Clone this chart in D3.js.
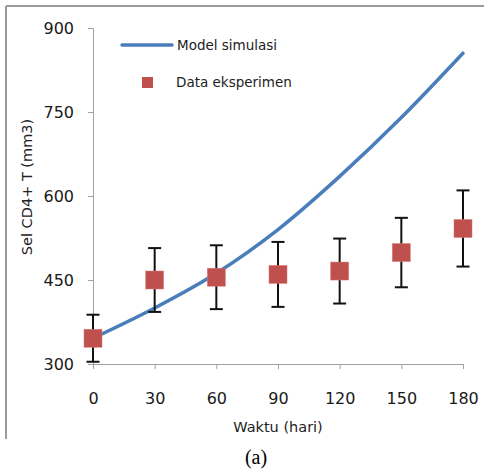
<!DOCTYPE html>
<html><head><meta charset="utf-8">
<script src="https://cdn.jsdelivr.net/npm/d3@7"></script>
<style>body{margin:0;background:#fff}svg{display:block}</style>
</head><body>
<script>
const days = [0, 30, 60, 90, 120, 150, 180];
const modelValues = [346, 400, 462, 540, 635, 740, 855];
const dataValues = [346, 450, 455, 460, 466, 499, 542];
const dataErrors = [42, 57, 57, 58, 58, 62, 68];
const yTicks = [300, 450, 600, 750, 900];
const xTicks = [0, 30, 60, 90, 120, 150, 180];

const W = 487, H = 469;
const svg = d3.select("body").append("svg").attr("width", W).attr("height", H);
const font = "DejaVu Sans, sans-serif";

// frame
svg.append("line").attr("x1", 6).attr("x2", 6).attr("y1", 6).attr("y2", 439).attr("stroke", "#9a9a9a").attr("stroke-width", 2);
svg.append("line").attr("x1", 6).attr("x2", 484).attr("y1", 6).attr("y2", 6).attr("stroke", "#9a9a9a").attr("stroke-width", 2);

const x = d3.scaleLinear().domain([0, 180]).range([93, 463]);
const y = d3.scaleLinear().domain([300, 900]).range([364, 28]);

const yAxis = svg.append("g").attr("transform", `translate(${x(0)},0)`)
  .call(d3.axisLeft(y).tickValues(yTicks).tickSize(5).tickPadding(14));
const xAxis = svg.append("g").attr("transform", `translate(0,${y(300)})`)
  .call(d3.axisBottom(x).tickValues(xTicks).tickSize(5).tickPadding(24));
[yAxis, xAxis].forEach(g => {
  g.select(".domain").attr("stroke", "#a0a0a0");
  g.selectAll(".tick line").attr("stroke", "#a0a0a0");
  g.selectAll("text").attr("font-family", font).attr("font-size", 16).attr("fill", "#1a1a1a");
});

// model line
svg.append("path").datum(days.map((d, i) => [d, modelValues[i]]))
  .attr("d", d3.line().x(d => x(d[0])).y(d => y(d[1])).curve(d3.curveMonotoneX))
  .attr("fill", "none").attr("stroke", "#4A7EBB").attr("stroke-width", 3.5).attr("stroke-linecap", "round");

// error bars
const eb = svg.append("g").attr("stroke", "#111").attr("stroke-width", 2);
days.forEach((d, i) => {
  const cx = x(d), top = y(dataValues[i] + dataErrors[i]), bot = y(dataValues[i] - dataErrors[i]);
  eb.append("line").attr("x1", cx).attr("x2", cx).attr("y1", top).attr("y2", bot);
  eb.append("line").attr("x1", cx - 6.5).attr("x2", cx + 6.5).attr("y1", top).attr("y2", top);
  eb.append("line").attr("x1", cx - 6.5).attr("x2", cx + 6.5).attr("y1", bot).attr("y2", bot);
});

// markers
svg.append("g").selectAll("rect").data(days).join("rect")
  .attr("x", d => x(d) - 9).attr("y", (d, i) => y(dataValues[i]) - 9)
  .attr("width", 18).attr("height", 18).attr("fill", "#C0504D").attr("stroke", "#d87a78").attr("stroke-width", 0.5);

// legend
svg.append("line").attr("x1", 122).attr("x2", 172).attr("y1", 45).attr("y2", 45)
  .attr("stroke", "#4A7EBB").attr("stroke-width", 3.5).attr("stroke-linecap", "round");
svg.append("text").attr("x", 177).attr("y", 45).attr("dy", "0.35em").text("Model simulasi")
  .attr("font-family", font).attr("font-size", 13.5).attr("fill", "#222");
svg.append("rect").attr("x", 142).attr("y", 77).attr("width", 11).attr("height", 11).attr("fill", "#C0504D");
svg.append("text").attr("x", 176).attr("y", 82).attr("dy", "0.35em").text("Data eksperimen")
  .attr("font-family", font).attr("font-size", 13.5).attr("fill", "#222");

// axis titles
svg.append("text").attr("x", 278).attr("y", 427).attr("dy", "0.35em").attr("text-anchor", "middle")
  .text("Waktu (hari)").attr("font-family", font).attr("font-size", 14.5).attr("fill", "#222");
svg.append("text").attr("transform", "translate(27,187) rotate(-90)").attr("dy", "0.35em").attr("text-anchor", "middle")
  .text("Sel CD4+ T (mm3)").attr("font-family", font).attr("font-size", 14.5).attr("fill", "#222");
svg.append("text").attr("x", 256).attr("y", 457).attr("dy", "0.35em").attr("text-anchor", "middle")
  .text("(a)").attr("font-family", "Liberation Serif, serif").attr("font-size", 20).attr("fill", "#000");
</script>
</body></html>
